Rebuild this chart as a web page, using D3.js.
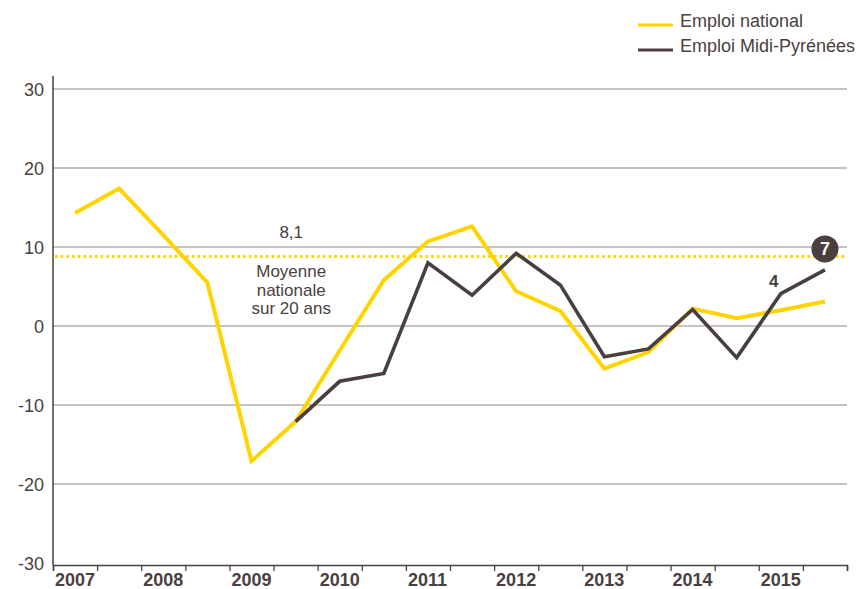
<!DOCTYPE html>
<html>
<head>
<meta charset="utf-8">
<script src="https://cdn.jsdelivr.net/npm/d3@7"></script>
<style>
  body { margin: 0; background: #fff; }
  #chart { width: 861px; height: 589px; }
  text { font-family: "Liberation Sans", Arial, sans-serif; }
</style>
</head>
<body>
<div id="chart"></div>
<script>
// semesters, plotted at mid-semester
const periods = [
  "2007-S1", "2007-S2", "2008-S1", "2008-S2", "2009-S1", "2009-S2",
  "2010-S1", "2010-S2", "2011-S1", "2011-S2", "2012-S1", "2012-S2",
  "2013-S1", "2013-S2", "2014-S1", "2014-S2", "2015-S1", "2015-S2"
];
const national = [14.3, 17.4, 11.5, 5.5, -17.1, -12.1, -3.1, 5.8, 10.7, 12.6, 4.4, 1.9, -5.4, -3.3, 2.2, 1.0, 2.0, 3.1];
const midiPyrenees = [null, null, null, null, null, -12.1, -7.0, -6.0, 8.0, 3.9, 9.2, 5.2, -3.9, -2.9, 2.1, -4.0, 4.1, 7.1];
const years = [2007, 2008, 2009, 2010, 2011, 2012, 2013, 2014, 2015];
const yTicks = [-30, -20, -10, 0, 10, 20, 30];
const average = 8.8;
const averageLabel = "8,1";
const averageText = ["Moyenne", "nationale", "sur 20 ans"];
const seriesNames = ["Emploi national", "Emploi Midi-Pyrénées"];

const yellow = "#ffd400";
const dark = "#4a3f3f";
const textColor = "#4a4040";
const gridColor = "#b5afaf";

const fullWidth = 861, fullHeight = 589;
const svg = d3.select("#chart")
  .append("svg")
  .attr("width", fullWidth)
  .attr("height", fullHeight);

const x = d3.scaleLinear().domain([2007, 2016]).range([53, 847]);
const y = d3.scaleLinear().domain([-30, 30]).range([563, 89]);
const axisY = 565;

const toTime = p => +p.slice(0, 4) + (p.endsWith("S1") ? 0.25 : 0.75);

// grid lines
svg.append("g")
  .selectAll("line")
  .data(yTicks.filter(d => d > -30))
  .enter()
  .append("line")
  .attr("x1", x(2007))
  .attr("x2", x(2016))
  .attr("y1", d => y(d))
  .attr("y2", d => y(d))
  .attr("stroke", gridColor)
  .attr("stroke-width", 1.3);

// y axis
const yAxis = svg.append("g")
  .attr("transform", `translate(${x(2007)},0)`)
  .call(d3.axisLeft(y).tickValues(yTicks).tickSize(0).tickPadding(9).tickFormat(d => String(d)));
yAxis.select(".domain").remove();
yAxis.selectAll("text")
  .style("font-size", "18px")
  .style("fill", textColor)
  .attr("dy", "0.36em");
svg.append("line")
  .attr("x1", x(2007)).attr("x2", x(2007))
  .attr("y1", 76).attr("y2", axisY)
  .attr("stroke", dark)
  .attr("stroke-width", 1.5);

// x axis
const halfYears = d3.range(0, 19).map(i => 2007 + i / 2);
const xAxis = svg.append("g")
  .attr("transform", `translate(0,${axisY})`)
  .call(d3.axisBottom(x).tickValues(halfYears).tickSize(6).tickFormat(""));
xAxis.select(".domain").attr("stroke", dark).attr("stroke-width", 1.5);
xAxis.selectAll(".tick line").attr("stroke", dark).attr("stroke-width", 1.3);

svg.append("g")
  .selectAll("text")
  .data(years)
  .enter()
  .append("text")
  .attr("x", d => x(d) + 2)
  .attr("y", 586)
  .style("font-size", "18px")
  .style("font-weight", "bold")
  .style("fill", textColor)
  .text(d => d);

// average line
svg.append("line")
  .attr("x1", x(2007) + 2)
  .attr("x2", x(2016))
  .attr("y1", y(average))
  .attr("y2", y(average))
  .attr("stroke", yellow)
  .attr("stroke-width", 3)
  .attr("stroke-dasharray", "2.6,3.1");

const avgX = x(2009.7);
svg.append("text")
  .attr("x", avgX)
  .attr("y", y(average) - 18)
  .attr("text-anchor", "middle")
  .style("font-size", "17px")
  .style("fill", textColor)
  .text(averageLabel);

svg.append("g")
  .selectAll("text")
  .data(averageText)
  .enter()
  .append("text")
  .attr("x", avgX)
  .attr("y", (d, i) => y(average) + 21 + i * 18.5)
  .attr("text-anchor", "middle")
  .style("font-size", "17px")
  .style("fill", textColor)
  .text(d => d);

// lines
const line = d3.line()
  .defined(d => d.value != null)
  .x(d => x(d.t))
  .y(d => y(d.value));

const nationalData = periods.map((p, i) => ({ t: toTime(p), value: national[i] }));
const midiData = periods.map((p, i) => ({ t: toTime(p), value: midiPyrenees[i] }));

svg.append("path")
  .datum(nationalData)
  .attr("d", line)
  .attr("fill", "none")
  .attr("stroke", yellow)
  .attr("stroke-width", 4);

svg.append("path")
  .datum(midiData)
  .attr("d", line)
  .attr("fill", "none")
  .attr("stroke", dark)
  .attr("stroke-width", 3.6);

// end labels
const prev = midiData[midiData.length - 2];
const last = midiData[midiData.length - 1];
svg.append("text")
  .attr("x", x(prev.t) - 7)
  .attr("y", y(prev.value) - 7)
  .attr("text-anchor", "middle")
  .style("font-size", "17px")
  .style("font-weight", "bold")
  .style("fill", textColor)
  .text(Math.round(prev.value));

svg.append("circle")
  .attr("cx", x(last.t))
  .attr("cy", y(last.value) - 21)
  .attr("r", 13.5)
  .attr("fill", dark);
svg.append("text")
  .attr("x", x(last.t))
  .attr("y", y(last.value) - 21)
  .attr("dy", "0.36em")
  .attr("text-anchor", "middle")
  .style("font-size", "18px")
  .style("font-weight", "bold")
  .style("fill", "#fff")
  .text(Math.round(last.value));

// legend
const legend = svg.append("g");
[yellow, dark].forEach((c, i) => {
  legend.append("line")
    .attr("x1", 638).attr("x2", 673)
    .attr("y1", 25 + i * 25).attr("y2", 25 + i * 25)
    .attr("stroke", c)
    .attr("stroke-width", 3);
  legend.append("text")
    .attr("x", 680)
    .attr("y", 27 + i * 24.5)
    .style("font-size", "18px")
    .style("fill", textColor)
    .text(seriesNames[i]);
});
</script>
</body>
</html>
